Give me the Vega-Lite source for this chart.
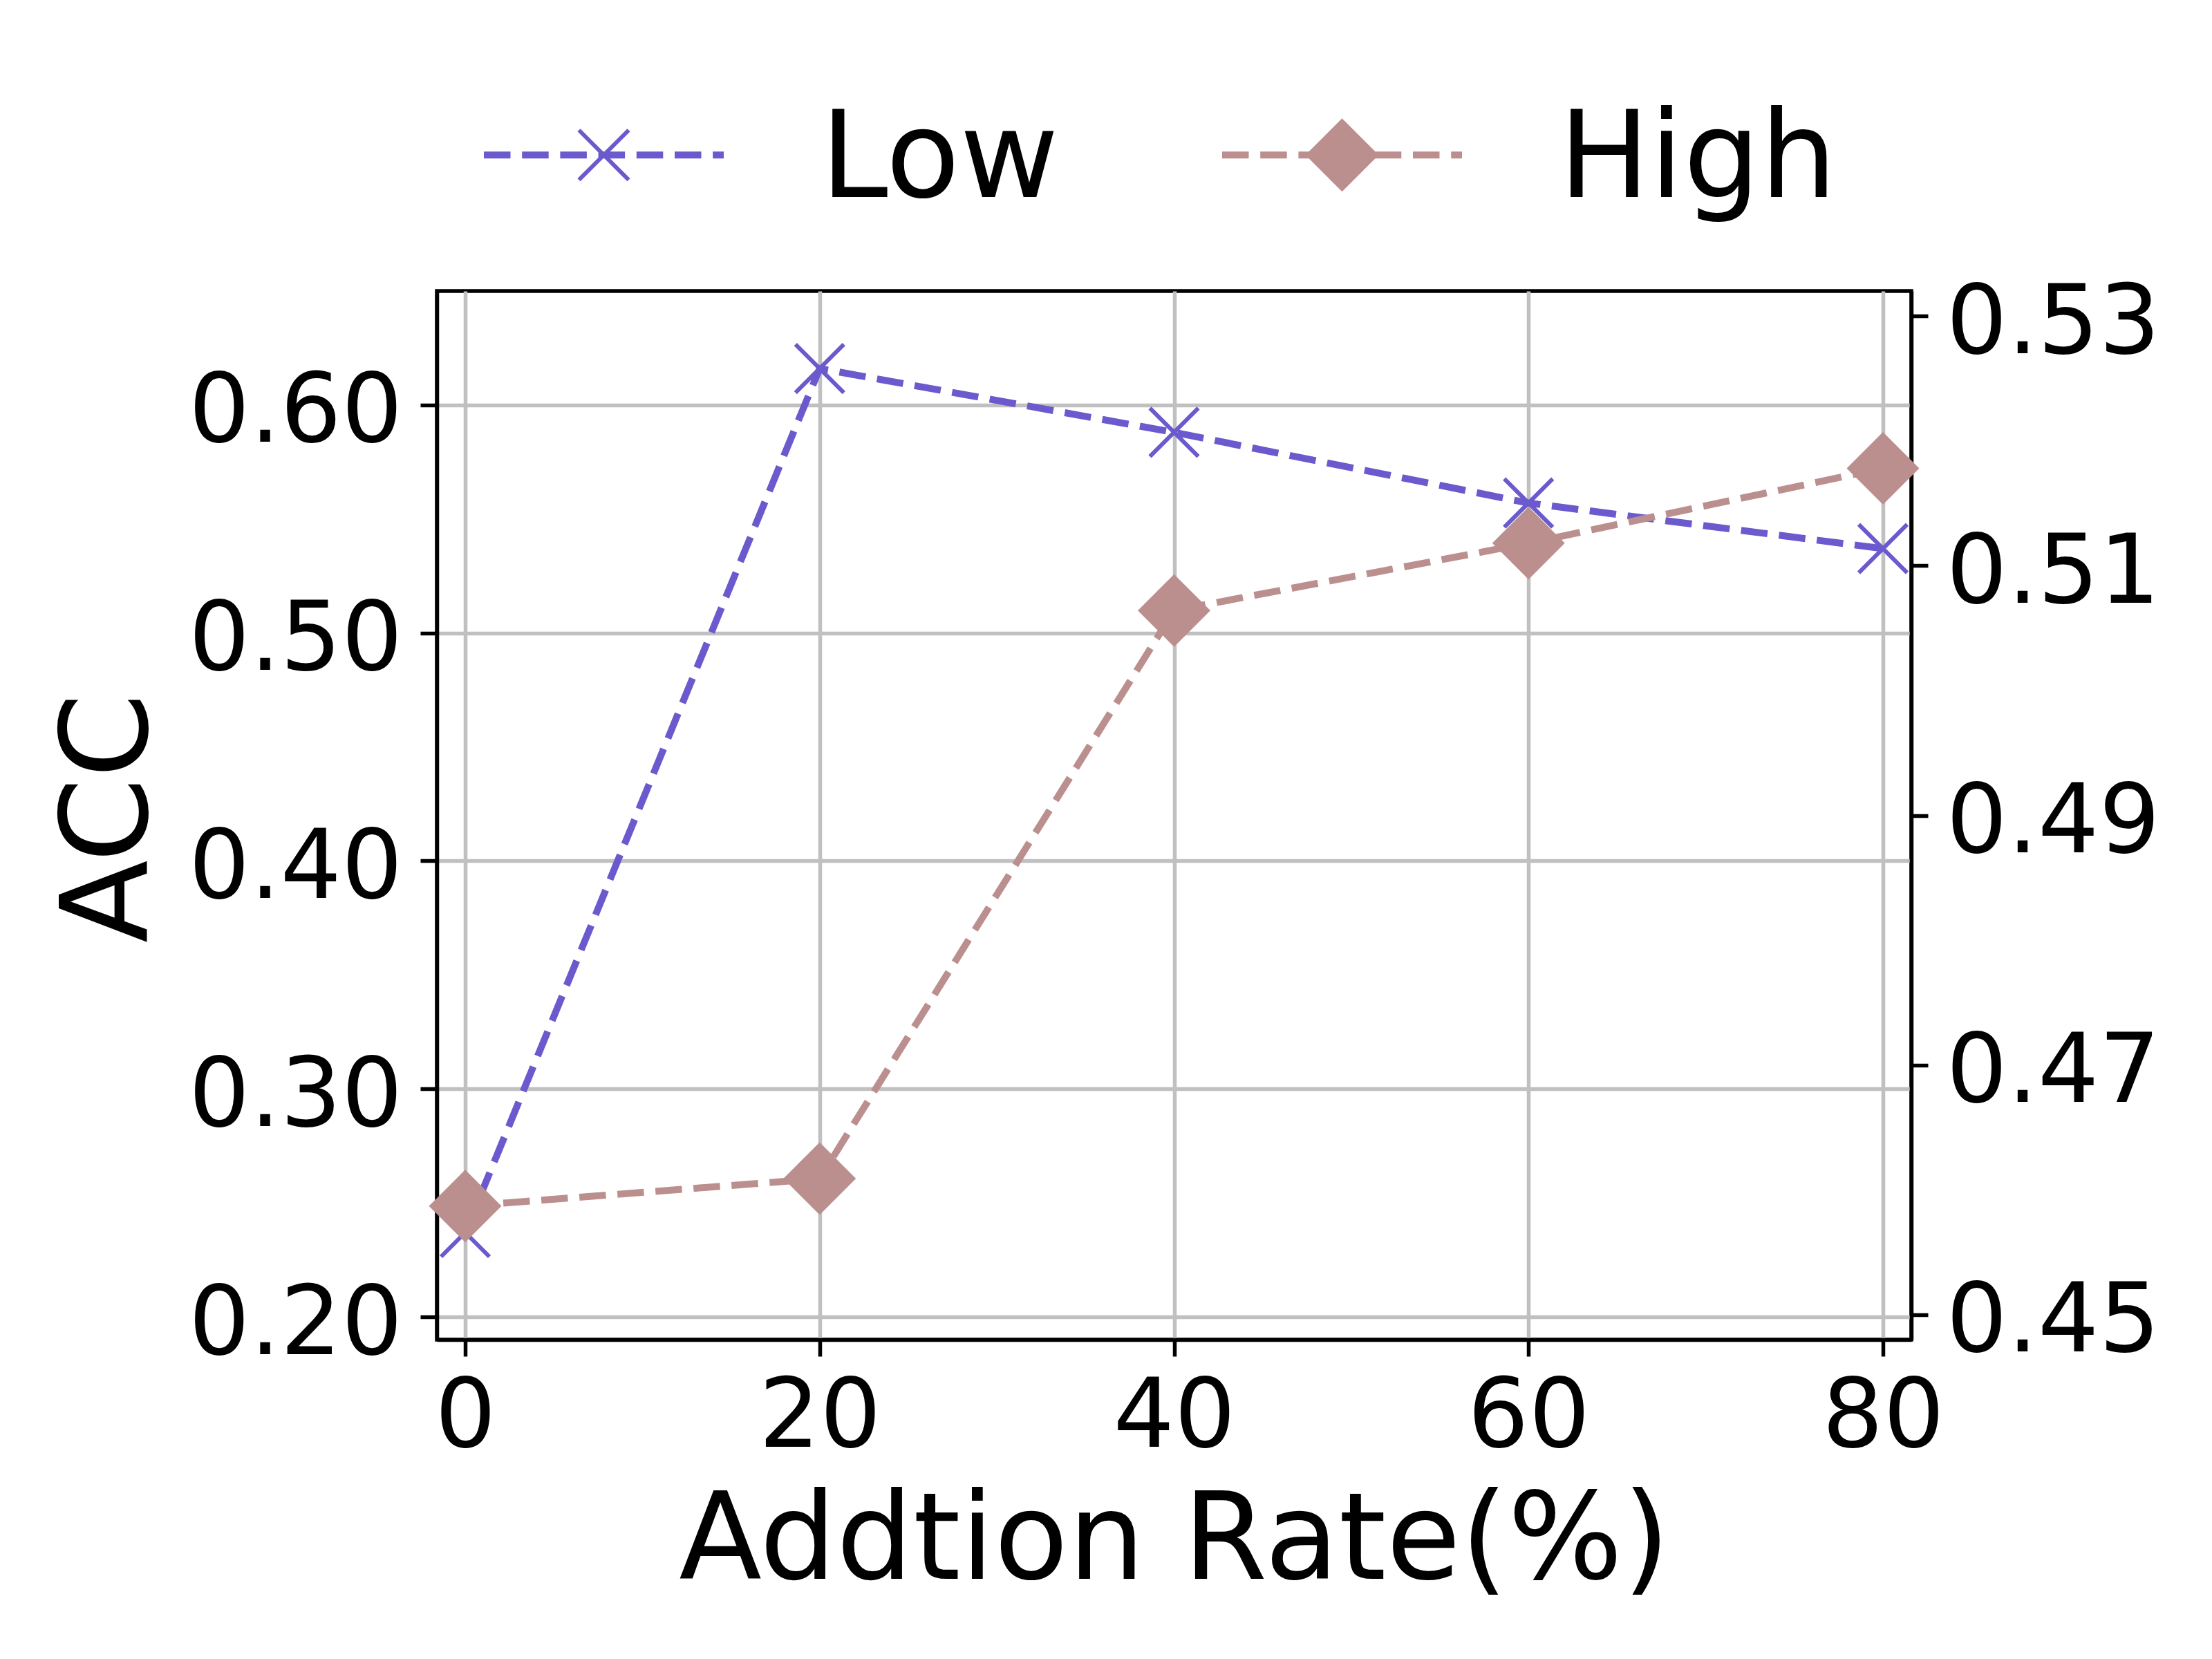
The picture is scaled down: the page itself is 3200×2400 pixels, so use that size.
{
  "$schema": "https://vega.github.io/schema/vega-lite/v6.json",
  "width": 2133,
  "height": 1517,
  "autosize": {"type": "none"},
  "padding": {"left": 632, "top": 421, "right": 435, "bottom": 462},
  "background": "white",
  "config": {
    "view": {"stroke": "black", "strokeWidth": 5.5},
    "font": "DejaVu Sans",
    "axis": {
      "labelFont": "DejaVu Sans",
      "labelFontSize": 139,
      "labelColor": "black",
      "labelLimit": 2000,
      "titleFont": "DejaVu Sans",
      "titleFontSize": 175,
      "titleFontWeight": "normal",
      "titleColor": "black",
      "titleLimit": 3000,
      "domainColor": "black",
      "domainWidth": 5.5,
      "tickColor": "black",
      "tickWidth": 5.5,
      "tickSize": 24,
      "gridColor": "#c0c0c0",
      "gridWidth": 5.5,
      "labelPadding": 26,
      "labelFlush": false,
      "labelOverlap": false,
      "labelBound": false
    },
    "legend": {
      "orient": "none",
      "legendX": 68,
      "legendY": -276.5,
      "direction": "horizontal",
      "padding": 0,
      "symbolSize": 4,
      "symbolOffset": 86,
      "symbolOpacity": 1,
      "symbolStrokeWidth": 0,
      "labelOffset": 226,
      "labelFont": "DejaVu Sans",
      "labelFontSize": 175,
      "labelColor": "black",
      "labelLimit": 2000,
      "columnPadding": 236
    }
  },
  "data": {
    "values": [
      {"rate": 0, "series": "Low", "acc": 0.237},
      {"rate": 20, "series": "Low", "acc": 0.616},
      {"rate": 40, "series": "Low", "acc": 0.588},
      {"rate": 60, "series": "Low", "acc": 0.557},
      {"rate": 80, "series": "Low", "acc": 0.537},
      {"rate": 0, "series": "High", "acc": 0.4587},
      {"rate": 20, "series": "High", "acc": 0.4609},
      {"rate": 40, "series": "High", "acc": 0.5064},
      {"rate": 60, "series": "High", "acc": 0.5118},
      {"rate": 80, "series": "High", "acc": 0.5178}
    ]
  },
  "encoding": {
    "x": {
      "field": "rate",
      "type": "quantitative",
      "scale": {"domain": [-1.6, 81.6], "nice": false, "zero": false},
      "axis": {
        "values": [0, 20, 40, 60, 80],
        "title": "Addtion Rate(%)",
        "grid": true,
        "labelPadding": 20,
        "titleBaseline": "top",
        "titleY": 207
      }
    }
  },
  "layer": [
    {
      "transform": [{"filter": "datum.series === 'Low'"}],
      "encoding": {
        "y": {
          "field": "acc",
          "type": "quantitative",
          "scale": {"domain": [0.19, 0.65], "nice": false, "zero": false},
          "axis": {
            "orient": "left",
            "values": [0.2, 0.3, 0.4, 0.5, 0.6],
            "format": ".2f",
            "title": "ACC",
            "grid": true,
            "labelOffset": 11,
            "titleAngle": -90,
            "titleBaseline": "bottom",
            "titleX": -383,
            "titleY": 762
          }
        }
      },
      "layer": [
        {
          "mark": {"type": "line", "strokeWidth": 10, "strokeDash": [38.5, 16.7], "color": "#6A5ACD"}
        },
        {
          "mark": {
            "type": "point",
            "shape": "M-1,-1L1,1M1,-1L-1,1",
            "filled": false,
            "size": 4900,
            "strokeWidth": 6,
            "color": "#6A5ACD",
            "opacity": 1
          }
        },
        {
          "mark": {"type": "point", "filled": true, "opacity": 0},
          "encoding": {
            "color": {
              "field": "series",
              "type": "nominal",
              "title": null,
              "scale": {"domain": ["Low", "High"], "range": ["#6A5ACD", "#BC8F8F"]}
            },
            "shape": {
              "field": "series",
              "type": "nominal",
              "title": null,
              "scale": {
                "domain": ["Low", "High"],
                "range": [
                  "M-173.5,-13L-135,-13L-135,-3L-173.5,-3ZM-118.3,-13L-79.8,-13L-79.8,-3L-118.3,-3ZM-63.1,-13L-24.6,-13L-24.6,-3L-63.1,-3ZM-7.9,-13L30.6,-13L30.6,-3L-7.9,-3ZM47.3,-13L85.8,-13L85.8,-3L47.3,-3ZM102.5,-13L141,-13L141,-3L102.5,-3ZM157.7,-13L173.5,-13L173.5,-3L157.7,-3ZM-33.9,-46.1L38.1,25.9L33.9,30.1L-38.1,-41.9ZM33.9,-46.1L38.1,-41.9L-33.9,30.1L-38.1,25.9Z",
                  "M-173.5,-13L-135,-13L-135,-3L-173.5,-3ZM-118.3,-13L-79.8,-13L-79.8,-3L-118.3,-3ZM-63.1,-13L-24.6,-13L-24.6,-3L-63.1,-3ZM-7.9,-13L30.6,-13L30.6,-3L-7.9,-3ZM47.3,-13L85.8,-13L85.8,-3L47.3,-3ZM102.5,-13L141,-13L141,-3L102.5,-3ZM157.7,-13L173.5,-13L173.5,-3L157.7,-3ZM0,-61L53,-8L0,45L-53,-8Z"
                ]
              }
            }
          }
        }
      ]
    },
    {
      "transform": [{"filter": "datum.series === 'High'"}],
      "encoding": {
        "y": {
          "field": "acc",
          "type": "quantitative",
          "scale": {"domain": [0.448, 0.532], "nice": false, "zero": false},
          "axis": {
            "orient": "right",
            "values": [0.45, 0.47, 0.49, 0.51, 0.53],
            "format": ".2f",
            "title": null,
            "grid": false,
            "labelOffset": 11
          }
        }
      },
      "layer": [
        {
          "mark": {"type": "line", "strokeWidth": 10, "strokeDash": [38.5, 16.7], "color": "#BC8F8F"}
        },
        {
          "mark": {
            "type": "point",
            "shape": "diamond",
            "filled": true,
            "size": 11025,
            "color": "#BC8F8F",
            "opacity": 1
          }
        }
      ]
    }
  ],
  "resolve": {"scale": {"y": "independent"}}
}
